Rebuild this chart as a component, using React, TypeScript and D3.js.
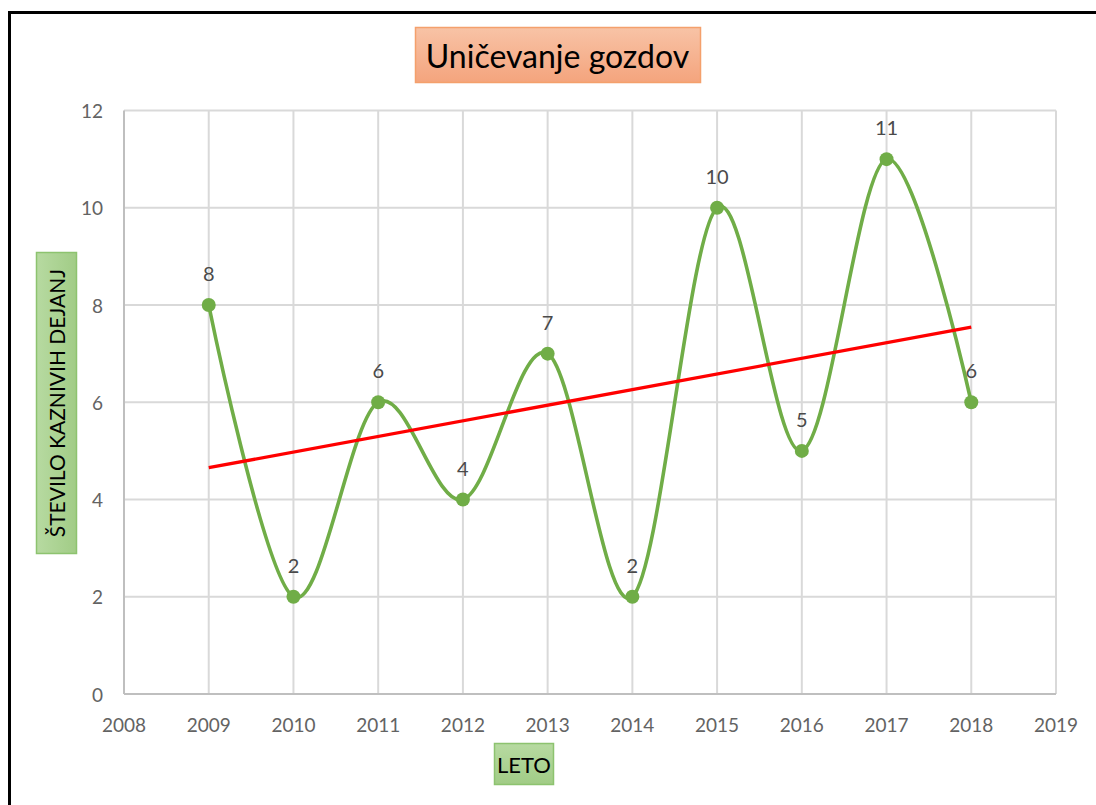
import React from "react";
import * as d3 from "d3";

const years = [2009, 2010, 2011, 2012, 2013, 2014, 2015, 2016, 2017, 2018];
const values = [8, 2, 6, 4, 7, 2, 10, 5, 11, 6];
const xTicks = [2008, 2009, 2010, 2011, 2012, 2013, 2014, 2015, 2016, 2017, 2018, 2019];
const yTicks = [0, 2, 4, 6, 8, 10, 12];
const title = "Uničevanje gozdov";
const yTitle = "ŠTEVILO KAZNIVIH DEJANJ";
const xTitle = "LETO";

const W = 1096;
const H = 805;
const FONT = "Lato, 'Open Sans', sans-serif";

export default function App() {
  const x = d3.scaleLinear().domain([2008, 2019]).range([124, 1056]);
  const y = d3.scaleLinear().domain([0, 12]).range([694, 110.5]);

  const pts: [number, number][] = years.map((yr, i) => [x(yr), y(values[i])]);
  const line = d3.line().curve(d3.curveCardinal.tension(0))(pts) || "";

  // linear trendline (least squares)
  const mx = d3.mean(years) as number;
  const my = d3.mean(values) as number;
  const sxy = d3.sum(years, (yr, i) => (yr - mx) * (values[i] - my));
  const sxx = d3.sum(years, (yr) => (yr - mx) * (yr - mx));
  const slope = sxy / sxx;
  const ic = my - slope * mx;
  const x0 = years[0];
  const x1 = years[years.length - 1];

  return (
    <div style={{ position: "fixed", left: 0, top: 0, width: W, height: H, background: "#fff" }}>
      <svg width={W} height={H} style={{ display: "block" }}>
        <defs>
          <linearGradient id="gTitle" x1="0" y1="0" x2="0" y2="1">
            <stop offset="0" stopColor="#f8c3a6" />
            <stop offset="1" stopColor="#f4a47d" />
          </linearGradient>
          <linearGradient id="gGreen" x1="0" y1="0" x2="0" y2="1">
            <stop offset="0" stopColor="#b7daa1" />
            <stop offset="1" stopColor="#a1cc86" />
          </linearGradient>
          <linearGradient id="gGreenH" x1="0" y1="0" x2="1" y2="0">
            <stop offset="0" stopColor="#b7daa1" />
            <stop offset="1" stopColor="#a1cc86" />
          </linearGradient>
        </defs>
        <rect x={0} y={0} width={W} height={H} fill="#fff" />
        {/* outer frame */}
        <rect x={9.5} y={12.5} width={W + 20} height={H + 20} fill="none" stroke="#000" strokeWidth={3} />

        {/* gridlines */}
        {yTicks.filter((t) => t > 0).map((t) => (
          <line key={"gy" + t} x1={x(2008)} x2={x(2019)} y1={y(t)} y2={y(t)} stroke="#d9d9d9" strokeWidth={2} />
        ))}
        {xTicks.filter((t) => t > 2008).map((t) => (
          <line key={"gx" + t} x1={x(t)} x2={x(t)} y1={y(12)} y2={y(0)} stroke="#d9d9d9" strokeWidth={2} />
        ))}
        {/* axes */}
        <line x1={x(2008)} x2={x(2008)} y1={y(12)} y2={y(0)} stroke="#bfbfbf" strokeWidth={2} />
        <line x1={x(2008)} x2={x(2019)} y1={y(0)} y2={y(0)} stroke="#bfbfbf" strokeWidth={2} />

        {/* tick labels */}
        {yTicks.map((t) => (
          <text key={"ty" + t} x={103} y={y(t) + 1} dy="0.35em" textAnchor="end" fontFamily={FONT} fontSize={19} fill="#636363">
            {t}
          </text>
        ))}
        {xTicks.map((t) => (
          <text key={"tx" + t} x={x(t)} y={725} dy="0.35em" textAnchor="middle" fontFamily={FONT} fontSize={19} fill="#636363">
            {t}
          </text>
        ))}

        {/* series */}
        <path d={line} fill="none" stroke="#70ad47" strokeWidth={3.6} />
        <line
          x1={x(x0)}
          y1={y(ic + slope * x0)}
          x2={x(x1)}
          y2={y(ic + slope * x1)}
          stroke="#ff0000"
          strokeWidth={3.3}
        />
        {pts.map((p, i) => (
          <circle key={"c" + i} cx={p[0]} cy={p[1]} r={7} fill="#70ad47" />
        ))}
        {pts.map((p, i) => (
          <text key={"l" + i} x={p[0]} y={p[1] - 31} dy="0.35em" textAnchor="middle" fontFamily={FONT} fontSize={20} fill="#4a4a4a">
            {values[i]}
          </text>
        ))}

        {/* title */}
        <rect x={415.5} y={27.5} width={285} height={55} fill="url(#gTitle)" stroke="#f4a06c" strokeWidth={1.5} />
        <text x={557.5} y={57} dy="0.35em" textAnchor="middle" fontFamily={FONT} fontSize={32} fill="#000">
          {title}
        </text>

        {/* y title */}
        <rect x={36.5} y={252.5} width={40} height={301} fill="url(#gGreenH)" stroke="#8dc36f" strokeWidth={1.5} />
        <text
          transform={`translate(${58},${403}) rotate(-90)`}
          dy="0.35em"
          textAnchor="middle"
          fontFamily={FONT}
          fontSize={21}
          fill="#000"
        >
          {yTitle}
        </text>

        {/* x title */}
        <rect x={494.5} y={743.5} width={59} height={41} fill="url(#gGreen)" stroke="#8dc36f" strokeWidth={1.5} />
        <text x={524} y={765} dy="0.35em" textAnchor="middle" fontFamily={FONT} fontSize={22} fill="#000">
          {xTitle}
        </text>
      </svg>
    </div>
  );
}
